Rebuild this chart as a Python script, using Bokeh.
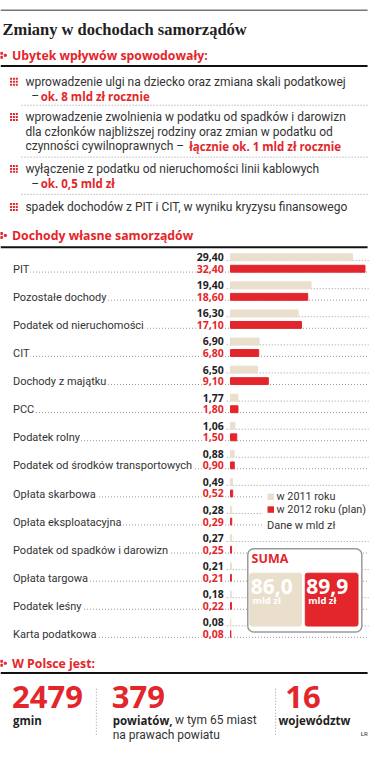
import numpy as np
from bokeh.plotting import figure
from bokeh.models import Range1d
from bokeh.core.properties import value
from bokeh.embed import file_html
from bokeh.resources import INLINE

# ---------------- data ----------------
title = "Zmiany w dochodach samorządów"
headers = ["Ubytek wpływów spowodowały:", "Dochody własne samorządów", "W Polsce jest:"]

item_black = [
    "wprowadzenie ulgi na dziecko oraz zmiana skali podatkowej",
    "–",
    "wprowadzenie zwolnienia w podatku od spadków i darowizn",
    "dla członków najbliższej rodziny oraz zmian w podatku od",
    "czynności cywilnoprawnych –",
    "wyłączenie z podatku od nieruchomości linii kablowych",
    "–",
    "spadek dochodów z PIT i CIT, w wyniku kryzysu finansowego",
]
item_red = ["ok. 8 mld zł rocznie", "łącznie ok. 1 mld zł rocznie", "ok. 0,5 mld zł"]

categories = ["PIT", "Pozostałe dochody", "Podatek od nieruchomości", "CIT",
              "Dochody z majątku", "PCC", "Podatek rolny",
              "Podatek od środków transportowych", "Opłata skarbowa",
              "Opłata eksploatacyjna", "Podatek od spadków i darowizn",
              "Opłata targowa", "Podatek leśny", "Karta podatkowa"]
v2011 = [29.40, 19.40, 16.30, 6.90, 6.50, 1.77, 1.06, 0.88, 0.49, 0.28, 0.27, 0.21, 0.18, 0.08]
v2012 = [32.40, 18.60, 17.10, 6.80, 9.10, 1.80, 1.50, 0.90, 0.52, 0.29, 0.25, 0.21, 0.22, 0.08]
legend_labels = ["w 2011 roku", "w 2012 roku (plan)"]
unit_note = "Dane w mld zł"
suma_title = "SUMA"
suma = [86.0, 89.9]
suma_unit = "mld zł"

counts = [2479, 379, 16]
count_bold = ["gmin", "powiatów,", "województw"]
count_extra = ["w tym 65 miast", "na prawach powiatu"]
credit = "ŁR"

# ---------------- style ----------------
RED = "#e3262b"
BEIGE = "#eadfcc"
INK = "#1f1f1f"
TXT = "#333333"
DOT = "#9a9a9a"
SANS = value("Roboto")
BOLD = value("Open Sans")

def fmt(v, d=2):
    return f"{v:.{d}f}".replace(".", ",")

p = figure(width=369, height=744, x_range=Range1d(0, 385), y_range=Range1d(760, 0),
           output_backend="svg", toolbar_location=None, min_border=0,
           x_axis_location=None, y_axis_location=None)
p.grid.visible = False
p.outline_line_color = None
p.background_fill_color = "white"

# bar scales
PX_PER_UNIT = 4.33
X0 = 240
ROW0, ROWH = 274, 28.7
p.extra_x_ranges = {"val": Range1d(-X0 / PX_PER_UNIT, (385 - X0) / PX_PER_UNIT)}
p.extra_y_ranges = {"row": Range1d((760 - ROW0) / ROWH, (0 - ROW0) / ROWH)}

def txt(x, y, t, size, color=INK, font=SANS, style="normal", align="left", **kw):
    p.text(x=x, y=y, text=t, text_font=font, text_font_style=style, text_font_size=size,
           text_color=color, text_align=align, text_baseline="middle", **kw)

# top rule + title
p.segment(x0=[0], y0=[10], x1=[383], y1=[10], line_color="#777777", line_width=1.5)
txt([2], [30], [title], "16.5px", font=value("Liberation Serif"), style="bold")

# section headers
header_y = [56, 240, 677]
rule_y = [67, 252, 687]
txt([12] * 3, header_y, headers, "12.3px", color=RED, font=BOLD, style="bold")
p.segment(x0=[0] * 3, y0=rule_y, x1=[383] * 3, y1=rule_y, line_color="#111111", line_width=2)
mk_x = [1, 1, 5] * 3
mk_y = sum([[hy - 2, hy + 2, hy] for hy in header_y], [])
p.scatter(x=mk_x, y=mk_y, marker="square", size=2, color=RED)

# bullet items
bx = [26, 32, 26, 26, 26, 26, 32, 26]
by = [83, 98, 119, 134, 149, 172, 187, 211]
txt(bx, by, item_black, "12px", color=TXT)
txt([42, 197, 42], [98, 149, 187], item_red, "11.5px", color=RED, font=BOLD, style="bold")
bullet_y = [83, 119, 172, 211]
gx, gy = [], []
for yy in bullet_y:
    for dx in (0, 3, 6):
        for dy in (-3, 0, 3):
            gx.append(11 + dx)
            gy.append(yy + dy)
p.scatter(x=gx, y=gy, marker="square", size=2, color=RED, line_color=None)
sep_y = [107, 160, 198]
p.segment(x0=[22] * 3, y0=sep_y, x1=[383] * 3, y1=sep_y, line_color=DOT, line_width=1, line_dash="1 2")

# ---------------- bar chart ----------------
rows = np.arange(len(categories))
OFF = 0.41
BASE = 0.12
p.segment(x0=[12] * len(rows), y0=rows + BASE, x1=[384] * len(rows), y1=rows + BASE,
          line_color=DOT, line_width=1, line_dash="1 2", y_range_name="row")
p.segment(x0=[236] * len(rows), y0=rows - OFF + BASE, x1=[384] * len(rows), y1=rows - OFF + BASE,
          line_color=DOT, line_width=1, line_dash="1 2", y_range_name="row")

p.hbar(y=rows - OFF, left=0, right=v2011, height=0.245, color=BEIGE,
       x_range_name="val", y_range_name="row")
p.hbar(y=rows, left=0, right=v2012, height=0.245, color=RED,
       x_range_name="val", y_range_name="row")

txt([12] * len(rows), rows + 0.02, categories, "11px", color=TXT, y_range_name="row",
    background_fill_color="white", padding=1)
txt([234] * len(rows), rows - OFF, [fmt(v) for v in v2011], "10.5px", color=INK, font=BOLD,
    style="bold", align="right", y_range_name="row", background_fill_color="white", padding=1)
txt([234] * len(rows), rows, [fmt(v) for v in v2012], "10.5px", color=RED, font=BOLD,
    style="bold", align="right", y_range_name="row", background_fill_color="white", padding=1)

# legend
p.quad(left=[274], right=[385], top=[499], bottom=[542], color="white")
p.scatter(x=[282, 282], y=[507, 520], marker="square", size=6.5, color=[BEIGE, RED], line_color=None)
txt([288, 288], [507, 520], legend_labels, "10.8px", color=TXT)
txt([278], [536], [unit_note], "11px", color=TXT)

# SUMA box
p.quad(left=[258], right=[377], top=[560], bottom=[645], fill_color="white",
       line_color="#9a9a9a", line_width=1.5, border_radius=6)
p.quad(left=[260, 318], right=[314, 373], top=[585, 585], bottom=[639, 639],
       color=[BEIGE, RED], border_radius=2)
txt([262], [570], [suma_title], "12.5px", color=RED, font=BOLD, style="bold")
txt([261, 319], [599, 599], [fmt(s, 1) for s in suma], "21px", color="white", font=BOLD, style="bold")
txt([263, 321], [613, 613], [suma_unit] * 2, "9.5px", color="white", font=BOLD, style="bold")

# ---------------- bottom stats ----------------
txt([12, 116, 297], [711, 711, 711], [str(c) for c in counts], "31px", color=RED, font=BOLD, style="bold")
txt([13, 117, 290], [735, 735, 735], count_bold, "11.5px", color=INK, font=BOLD, style="bold")
txt([182, 117], [735, 750], count_extra, "12px", color=TXT)
p.segment(x0=[100, 287], y0=[703, 703], x1=[100, 287], y1=[752, 752],
          line_color=DOT, line_width=1, line_dash="1 2")
txt([376], [749], [credit], "6px", color=TXT)

open("out.html", "w").write(file_html(p, INLINE))
